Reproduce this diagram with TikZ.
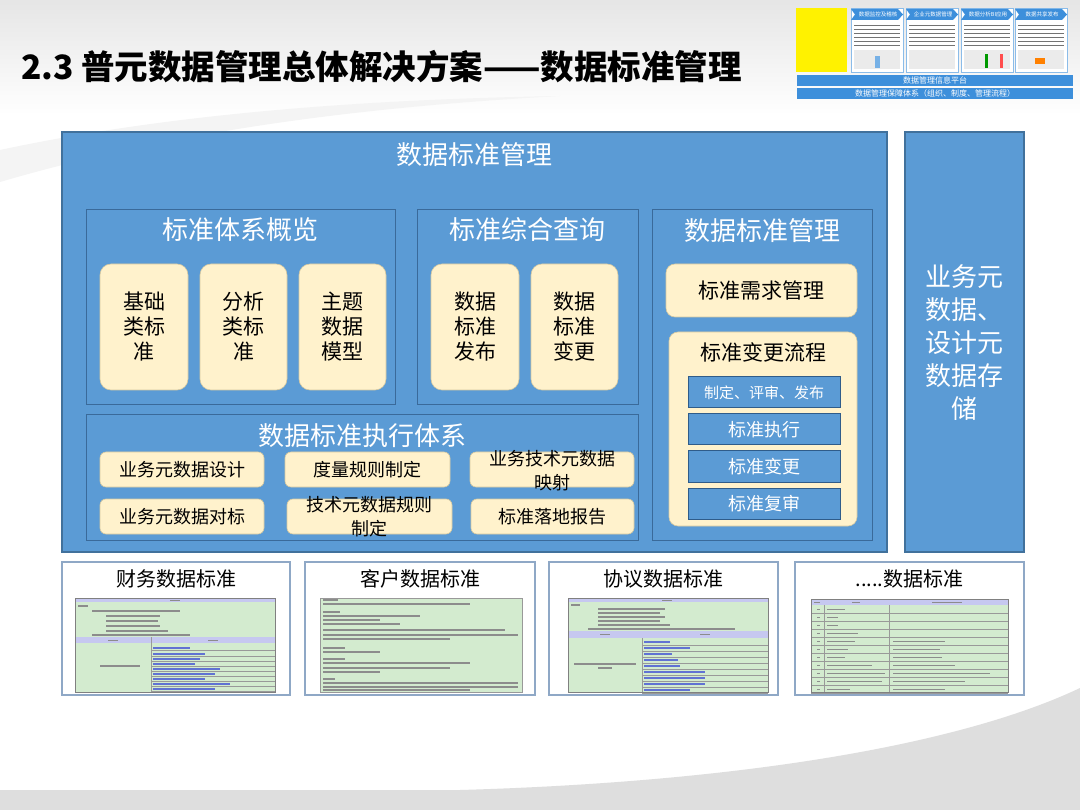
\documentclass[tikz,border=0pt]{standalone}
\usepackage{fontspec}
\setmainfont{Noto Sans CJK SC}
\definecolor{mblue}{HTML}{5B9BD5}
\definecolor{mborder}{HTML}{41719C}
\definecolor{pborder}{HTML}{3A6A9A}
\definecolor{cream}{HTML}{FFF2CC}
\definecolor{cborder}{HTML}{D6C9A0}
\definecolor{bborder}{HTML}{2F5C8A}
\definecolor{sgreen}{HTML}{D3EBCF}
\definecolor{slav}{HTML}{C6C8F0}
\definecolor{linkblue}{HTML}{3A4FC8}
\definecolor{thumbblue}{HTML}{3D8FDB}
\definecolor{panelframe}{HTML}{8FA8C6}
\tikzset{
  mainbox/.style={fill=mblue, draw=mborder, line width=1.2pt, inner sep=0pt, outer sep=0pt},
  panelbox/.style={draw=pborder, line width=0.8pt, inner sep=0pt, outer sep=0pt},
  card/.style={fill=cream, draw=cborder, line width=0.6pt, rounded corners=11pt, inner sep=0pt, outer sep=0pt},
  smallcard/.style={fill=cream, draw=cborder, line width=0.6pt, rounded corners=6pt, inner sep=0pt, outer sep=0pt},
  bluebox/.style={fill=mblue, draw=bborder, line width=1pt, inner sep=0pt, outer sep=0pt},
  wtitle/.style={text=white, font=\fontsize{26}{30}\selectfont, inner sep=0pt},
  cardtxt/.style={text=black, font=\fontsize{21}{25}\selectfont, align=center, inner sep=0pt},
  exectxt/.style={text=black, font=\fontsize{18}{24}\selectfont, align=center, inner sep=0pt},
  flowtxt/.style={text=white, font=\fontsize{18}{22}\selectfont, inner sep=0pt},
  stdframe/.style={fill=white, draw=panelframe, line width=1.5pt, inner sep=0pt, outer sep=0pt},
  stdtitle/.style={text=black, font=\fontsize{20}{24}\selectfont, inner sep=0pt},
  txtline/.style={draw=black!45, line width=1.3pt},
  thinline/.style={draw=black!40, line width=0.4pt},
  linkline/.style={draw=linkblue!80, line width=1.3pt},
  thumbpanel/.style={fill=white, draw=thumbblue!60, line width=0.6pt},
  thumbline/.style={draw=black!55, line width=0.9pt},
  thumbbar/.style={fill=thumbblue, draw=none, inner sep=0pt, outer sep=0pt},
  thumbtxt/.style={text=white, font=\fontsize{5.5}{6}\selectfont, inner sep=0pt}
}
\begin{document}
\begin{tikzpicture}[x=1pt,y=-1pt]
\useasboundingbox (0,0) rectangle (1080,810);
% ---------- background ----------
\fill[white] (0,0) rectangle (1080,810);
\shade[top color=gray!20, bottom color=white] (0,0) rectangle (1080,115);
\fill[gray!9] (0,150) .. controls (150,118) and (330,100) .. (560,96)
   .. controls (340,108) and (160,135) .. (0,182) -- cycle;
\fill[gray!26] (0,790) -- (460,790) .. controls (740,782) and (960,745) .. (1080,688) -- (1080,810) -- (0,810) -- cycle;

% ---------- title ----------
\node[anchor=west, inner sep=0pt, font=\bfseries\fontsize{33.5}{36}\selectfont] (title) at (21,67) {2.3 普元数据管理总体解决方案——数据标准管理};

% ---------- thumbnail top right ----------
\fill[yellow] (796,8) rectangle (847,72);
\foreach \x/\t in {851/数据监控及稽核, 906/企业元数据管理, 961/数据分析BI应用, 1015/数据共享发布}{
  \draw[thumbpanel] (\x,8) rectangle (\x+52,72);
  \fill[thumbblue] (\x,9) -- (\x+47,9) -- (\x+52,14.5) -- (\x+47,20) -- (\x,20) -- (\x+4,14.5) -- cycle;
  \node[thumbtxt] at (\x+27,14.5) {\t};
  \foreach \yy in {25,29,33,37,41,45}{ \draw[thumbline] (\x+3,\yy) -- (\x+49,\yy); }
  \fill[black!8] (\x+3,50) rectangle (\x+49,69);
}
\fill[thumbblue!70] (875,56) rectangle (880,68);
\fill[green!60!black] (985,54) rectangle (988,68);
\fill[red!70] (1000,54) rectangle (1003,68);
\fill[orange] (1035,58) rectangle (1045,64);
\node[thumbbar, minimum width=276pt, minimum height=11pt] (bar1) at (935,80.5) {};
\node[thumbtxt, font=\fontsize{8}{9}\selectfont] at (bar1) {数据管理信息平台};
\node[thumbbar, minimum width=276pt, minimum height=11pt] (bar2) at (935,93.5) {};
\node[thumbtxt, font=\fontsize{8}{9}\selectfont] at (bar2) {数据管理保障体系（组织、制度、管理流程）};

% ---------- main blue block ----------
\node[mainbox, minimum width=825pt, minimum height=420pt] (main) at (474.5,342) {};
\node[wtitle] (maintitle) at (474,155) {数据标准管理};
\node[mainbox, minimum width=119pt, minimum height=420pt] (right) at (964.5,342) {};
\node[wtitle, align=center, font=\fontsize{26}{33}\selectfont] (righttxt) at (964,343) {业务元\\数据、\\设计元\\数据存\\储};

% panel 1
\node[panelbox, minimum width=309pt, minimum height=195pt] (p1) at (240.5,306.5) {};
\node[wtitle] (p1t) at (240,230) {标准体系概览};
\node[card, minimum width=88pt, minimum height=126pt] (c11) at (144,327) {};
\node[cardtxt] at (c11) {基础\\类标\\准};
\node[card, minimum width=87pt, minimum height=126pt] (c12) at (243.5,327) {};
\node[cardtxt] at (c12) {分析\\类标\\准};
\node[card, minimum width=87pt, minimum height=126pt] (c13) at (342.5,327) {};
\node[cardtxt] at (c13) {主题\\数据\\模型};

% panel 2
\node[panelbox, minimum width=221pt, minimum height=195pt] (p2) at (527.5,306.5) {};
\node[wtitle] (p2t) at (527,230) {标准综合查询};
\node[card, minimum width=88pt, minimum height=126pt] (c21) at (475,327) {};
\node[cardtxt] at (c21) {数据\\标准\\发布};
\node[card, minimum width=87pt, minimum height=126pt] (c22) at (574.5,327) {};
\node[cardtxt] at (c22) {数据\\标准\\变更};

% panel 3
\node[panelbox, minimum width=220pt, minimum height=331pt] (p3) at (762,374.5) {};
\node[wtitle] (p3t) at (762,231) {数据标准管理};
\node[card, rounded corners=9pt, minimum width=191pt, minimum height=53pt] (c31) at (761.5,290.5) {};
\node[cardtxt] at (c31) {标准需求管理};
\node[card, rounded corners=9pt, minimum width=188pt, minimum height=194pt] (c32) at (763,429) {};
\node[cardtxt] (c32t) at (763,352) {标准变更流程};
\node[bluebox, minimum width=152pt, minimum height=31pt] (f1) at (764,392.5) {};
\node[flowtxt, font=\fontsize{15}{18}\selectfont] at (f1) {制定、评审、发布};
\node[bluebox, minimum width=152pt, minimum height=31pt] (f2) at (764,429.5) {};
\node[flowtxt] at (f2) {标准执行};
\node[bluebox, minimum width=152pt, minimum height=31pt] (f3) at (764,466.5) {};
\node[flowtxt] at (f3) {标准变更};
\node[bluebox, minimum width=152pt, minimum height=31pt] (f4) at (764,503.5) {};
\node[flowtxt] at (f4) {标准复审};

% panel 4
\node[panelbox, minimum width=552pt, minimum height=126pt] (p4) at (362,477) {};
\node[wtitle] (p4t) at (362,436) {数据标准执行体系};
\node[smallcard, minimum width=164pt, minimum height=35pt] (e1) at (182,469.5) {};
\node[exectxt] at (e1) {业务元数据设计};
\node[smallcard, minimum width=165pt, minimum height=35pt] (e2) at (367.5,469.5) {};
\node[exectxt] at (e2) {度量规则制定};
\node[smallcard, minimum width=164pt, minimum height=35pt] (e3) at (552,469.5) {};
\node[exectxt] at (552,471) {业务技术元数据\\映射};
\node[smallcard, minimum width=164pt, minimum height=35pt] (e4) at (182,516.5) {};
\node[exectxt] at (e4) {业务元数据对标};
\node[smallcard, minimum width=165pt, minimum height=35pt] (e5) at (369.5,516.5) {};
\node[exectxt] at (369.5,517) {技术元数据规则\\制定};
\node[smallcard, minimum width=163pt, minimum height=35pt] (e6) at (552.5,516.5) {};
\node[exectxt] at (e6) {标准落地报告};

% ---------- bottom standards ----------
\node[stdframe, minimum width=228pt, minimum height=133pt] (s1) at (176,628.5) {};
\node[stdframe, minimum width=230pt, minimum height=133pt] (s2) at (420,628.5) {};
\node[stdframe, minimum width=229pt, minimum height=133pt] (s3) at (663.5,628.5) {};
\node[stdframe, minimum width=229pt, minimum height=133pt] (s4) at (909.5,628.5) {};
\node[stdtitle] (s1t) at (176,579) {财务数据标准};
\node[stdtitle] (s2t) at (420,579) {客户数据标准};
\node[stdtitle] (s3t) at (663.5,579) {协议数据标准};
\node[stdtitle] (s4t) at (909.5,579) {.....数据标准};

% screenshot 1
\fill[sgreen] (75,598) rectangle (275,692);
\fill[slav] (75,598) rectangle (275,602);
\draw[txtline, line width=1pt] (170,600) -- (180,600);
\draw[txtline] (78,606) -- (88,606);
\draw[txtline] (92,611) -- (180,611);
\foreach \yy/\l in {616/160,621/158,626/160,631/168}{ \draw[txtline] (106,\yy) -- (\l,\yy); }
\draw[txtline] (92,635) -- (190,635);
\fill[slav] (75,637) rectangle (275,643);
\draw[txtline, line width=1pt] (108,640) -- (118,640);
\draw[txtline, line width=1pt] (208,640) -- (218,640);
\draw[thinline] (151,637) -- (151,692);
\foreach \yy/\l in {648/190,654/205,659/200,664/195,669/220,674/215,679/205,684/230,689/215}{
  \draw[thinline] (151,\yy+2.5) -- (275,\yy+2.5);
  \draw[linkline] (153,\yy) -- (\l,\yy);
}
\draw[txtline] (100,666) -- (140,666);
\draw[black!50, line width=0.5pt] (75,598) rectangle (275,692);

% screenshot 2
\fill[sgreen] (320,598) rectangle (522,692);
\foreach \yy/\l in {600/338,604/470,612/340,616/420,620/380,624/400,630/505,635/518,639/450,648/345,652/380,659/345,663/470,668/450,672/380,679/335,683/518,687/518,690/470}{
  \draw[txtline, line width=1.1pt] (323,\yy) -- (\l,\yy);
}
\draw[black!40, line width=0.5pt] (320,598) rectangle (522,692);

% screenshot 3
\fill[sgreen] (568,598) rectangle (768,692);
\fill[slav] (568,598) rectangle (768,602);
\draw[txtline, line width=1pt] (662,600) -- (672,600);
\draw[txtline] (571,605) -- (580,605);
\foreach \yy/\l in {609/665,613/660,617/665,621/660,625/670}{ \draw[txtline] (598,\yy) -- (\l,\yy); }
\draw[txtline] (588,629) -- (735,629);
\fill[slav] (568,631) rectangle (768,638);
\draw[txtline, line width=1pt] (600,634.5) -- (610,634.5);
\draw[txtline, line width=1pt] (700,634.5) -- (710,634.5);
\draw[thinline] (642,638) -- (642,692);
\foreach \yy/\l in {642/670,648/690,654/672,660/678,666/680,672/705,678/705,684/705,690/690}{
  \draw[thinline] (642,\yy+3) -- (768,\yy+3);
  \draw[linkline] (644,\yy) -- (\l,\yy);
}
\draw[txtline] (574,664) -- (636,664);
\draw[txtline] (598,668) -- (612,668);
\draw[black!50, line width=0.5pt] (568,598) rectangle (768,692);

% screenshot 4
\fill[sgreen] (811,599) rectangle (1008,692);
\fill[slav] (811,599) rectangle (1008,605);
\draw[txtline, line width=1pt] (814,602) -- (820,602);
\draw[txtline, line width=1pt] (852,602) -- (860,602);
\draw[txtline, line width=1pt] (932,602) -- (962,602);
\draw[thinline] (824,605) -- (824,692);
\draw[thinline] (889,605) -- (889,692);
\foreach \i/\l/\r in {0/845/0, 1/838/0, 2/838/0, 3/858/0, 4/855/945, 5/848/940, 6/845/942, 7/872/955, 8/885/990, 9/882/965, 10/850/945}{
  \pgfmathsetmacro{\yy}{609+\i*8}
  \draw[thinline] (811,\yy+4) -- (1008,\yy+4);
  \draw[txtline, line width=1pt] (817,\yy) -- (820,\yy);
  \draw[txtline, line width=1pt] (827,\yy) -- (\l,\yy);
  \ifnum\r>0 \draw[txtline, line width=1pt] (893,\yy) -- (\r,\yy); \fi
}
\draw[black!50, line width=0.5pt] (811,599) rectangle (1008,692);
\end{tikzpicture}
\end{document}
